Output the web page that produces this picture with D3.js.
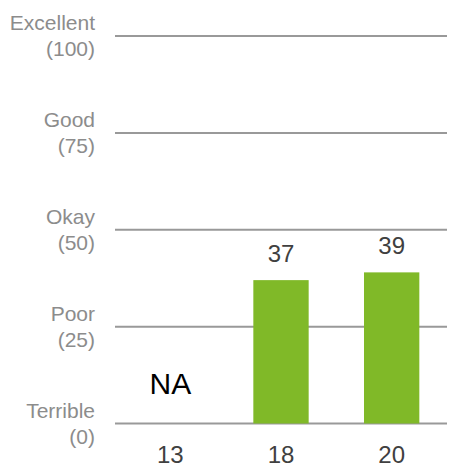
<!DOCTYPE html>
<html lang="en">
<head>
    <meta charset="UTF-8">
    <title>Scores</title>
    <script src="https://d3js.org/d3.v7.min.js"></script>
    <style>
        body { margin: 0; background: #fff; }
        svg { font-family: Arial, "Liberation Sans", sans-serif; }
        .bar { fill: #80b928; }
        .grid line { stroke: #999; stroke-width: 2; }
    </style>
</head>
<body>
    <svg width="452" height="476"></svg>
    <script>
        var categories = ["13", "18", "20"];
        var scores = [null, 37, 39];
        var tickValues = [0, 25, 50, 75, 100];
        var tickNames = ["Terrible", "Poor", "Okay", "Good", "Excellent"];

        var svg = d3.select("svg"),
            plotLeft = 115, plotRight = 447,
            plotTop = 36, plotBottom = 423.5;

        var xScale = d3.scaleBand().domain(categories).range([plotLeft, plotRight])
                .paddingInner(0.5).paddingOuter(0.25),
            yScale = d3.scaleLinear().domain([0, 100]).range([plotBottom, plotTop]);

        // gridlines
        svg.append("g").attr("class", "grid")
            .selectAll("line")
            .data(tickValues)
            .enter().append("line")
            .attr("x1", plotLeft).attr("x2", plotRight)
            .attr("y1", function (d) { return yScale(d); })
            .attr("y2", function (d) { return yScale(d); });

        // y labels, two lines each
        var yl = svg.append("g").selectAll("text")
            .data(tickValues)
            .enter().append("text")
            .attr("text-anchor", "end")
            .attr("fill", "#8c8c8c")
            .style("font-size", "21px");
        yl.append("tspan")
            .attr("x", 95)
            .attr("y", function (d) { return yScale(d) - 6; })
            .text(function (d, i) { return tickNames[i]; });
        yl.append("tspan")
            .attr("x", 95)
            .attr("y", function (d) { return yScale(d) + 20; })
            .text(function (d) { return "(" + d + ")"; });

        // bars
        var data = categories.map(function (c, i) { return { cat: c, v: scores[i] }; });
        svg.selectAll(".bar")
            .data(data.filter(function (d) { return d.v != null; }))
            .enter().append("rect")
            .attr("class", "bar")
            .attr("x", function (d) { return xScale(d.cat); })
            .attr("y", function (d) { return yScale(d.v); })
            .attr("width", xScale.bandwidth())
            .attr("height", function (d) { return yScale(0) - yScale(d.v); });

        // value labels
        svg.append("g").selectAll("text")
            .data(data)
            .enter().append("text")
            .attr("text-anchor", "middle")
            .attr("x", function (d) { return xScale(d.cat) + xScale.bandwidth() / 2; })
            .attr("y", function (d) { return d.v == null ? yScale(0) - 30 : yScale(d.v) - 18; })
            .attr("fill", function (d) { return d.v == null ? "#000" : "#404040"; })
            .style("font-size", function (d) { return d.v == null ? "30px" : "24px"; })
            .text(function (d) { return d.v == null ? "NA" : d.v; });

        // category labels
        svg.append("g").selectAll("text")
            .data(categories)
            .enter().append("text")
            .attr("text-anchor", "middle")
            .attr("x", function (d) { return xScale(d) + xScale.bandwidth() / 2; })
            .attr("y", 463)
            .attr("fill", "#404040")
            .style("font-size", "24px")
            .text(function (d) { return d; });
    </script>
</body>
</html>
